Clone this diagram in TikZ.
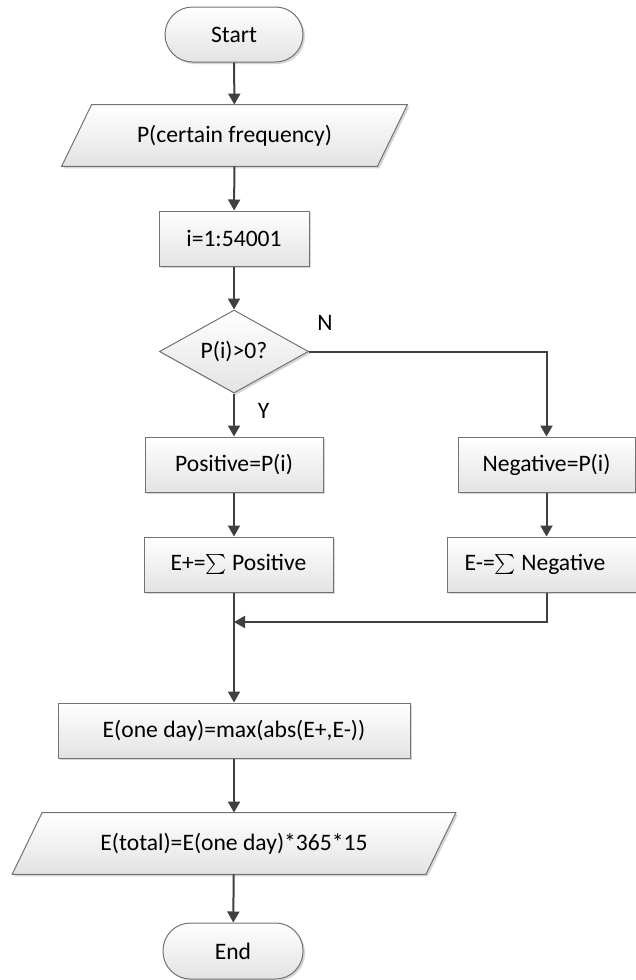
\documentclass[tikz,border=0pt]{standalone}
\usepackage{fontspec}
\setmainfont{Carlito}
\usetikzlibrary{shapes.geometric,arrows.meta,shadows,backgrounds}

\tikzset{
  % fill, outline and soft shadow shared by all boxes
  boxlook/.style={draw=black!55, line width=0.5pt, top color=white, bottom color=black!11,
    general shadow={fill=black!16, shadow xshift=1pt, shadow yshift=-1pt}},
  lbl/.style={font=\fontsize{11.8}{13}\selectfont, inner sep=0pt, align=center},
  procbox/.style={boxlook, lbl, rectangle, minimum height=27.5pt},
  termbox/.style={boxlook, lbl, rectangle, rounded corners=13.75pt, minimum width=69pt, minimum height=27.5pt},
  decide/.style={boxlook, lbl, diamond, aspect=1.8, minimum width=74.5pt, minimum height=41.5pt},
  iobox/.style={lbl, rectangle, minimum height=30.5pt},
  conn/.style={draw=black!75, line width=1pt},
  arr/.style={conn, -{Triangle[width=6pt,length=5.5pt]}}
}

\begin{document}
\begin{tikzpicture}[x=0.5pt,y=-0.5pt]
\useasboundingbox (0,0) rectangle (636,980);

% terminals, process boxes and decision
\node[termbox] (start) at (234,34.5) {Start};
\node[iobox, minimum width=157.5pt] (input) at (234.5,135.5) {P(certain frequency)};
\node[procbox, minimum width=75pt] (loop) at (234,238.5) {i=1:54001};
\node[decide] (dec) at (234,351.5) {P(i)>0?};
\node[procbox, minimum width=89pt] (pos) at (234,464.5) {Positive=P(i)};
\node[procbox, minimum width=88.5pt] (neg) at (546.5,464.5) {Negative=P(i)};
\node[procbox, minimum width=94.5pt] (epos) at (238.5,564.5) {E+=$\sum$ Positive};
\node[procbox, minimum width=100pt] (eneg) at (547,564.5) {\hspace*{-12pt}E-=$\sum$ Negative};
\node[procbox, minimum width=176pt] (eday) at (234,730.5) {E(one day)=max(abs(E+,E-))};
\node[iobox, minimum width=206.5pt] (total) at (234,843.5) {E(total)=E(one day)*365*15};
\node[termbox, minimum width=70pt, minimum height=28pt] (stop) at (233,951) {End};

% branch labels
\node[lbl] (nlab) at (325,323) {N};
\node[lbl] (ylab) at (263.5,411) {Y};

% parallelogram outlines behind the input/output texts
\begin{scope}[on background layer]
  \fill[white] (0,0) rectangle (636,980);
  \path[boxlook] ([xshift=7.5pt]input.north west) -- ([xshift=7.5pt]input.north east)
    -- ([xshift=-7.5pt]input.south east) -- ([xshift=-7.5pt]input.south west) -- cycle;
  \path[boxlook] ([xshift=7.5pt]total.north west) -- ([xshift=7.5pt]total.north east)
    -- ([xshift=-7.5pt]total.south east) -- ([xshift=-7.5pt]total.south west) -- cycle;
\end{scope}

% connectors
\coordinate (jn) at (234,622);
\draw[arr] (start) -- (input);
\draw[arr] (input) -- (loop);
\draw[arr] (loop) -- (dec);
\draw[arr] (dec) -- (pos);
\draw[arr] (dec.east) -| (neg.north);
\draw[arr] (pos) -- (epos.north -| pos.south);
\draw[arr] (neg) -- (eneg.north -| neg.south);
\draw[arr] (eneg.south -| neg.south) |- (jn);
\draw[arr] (epos.south -| pos.south) -- (eday);
\draw[arr] (eday) -- (total);
\draw[arr] (total) -- (stop);
\end{tikzpicture}
\end{document}
